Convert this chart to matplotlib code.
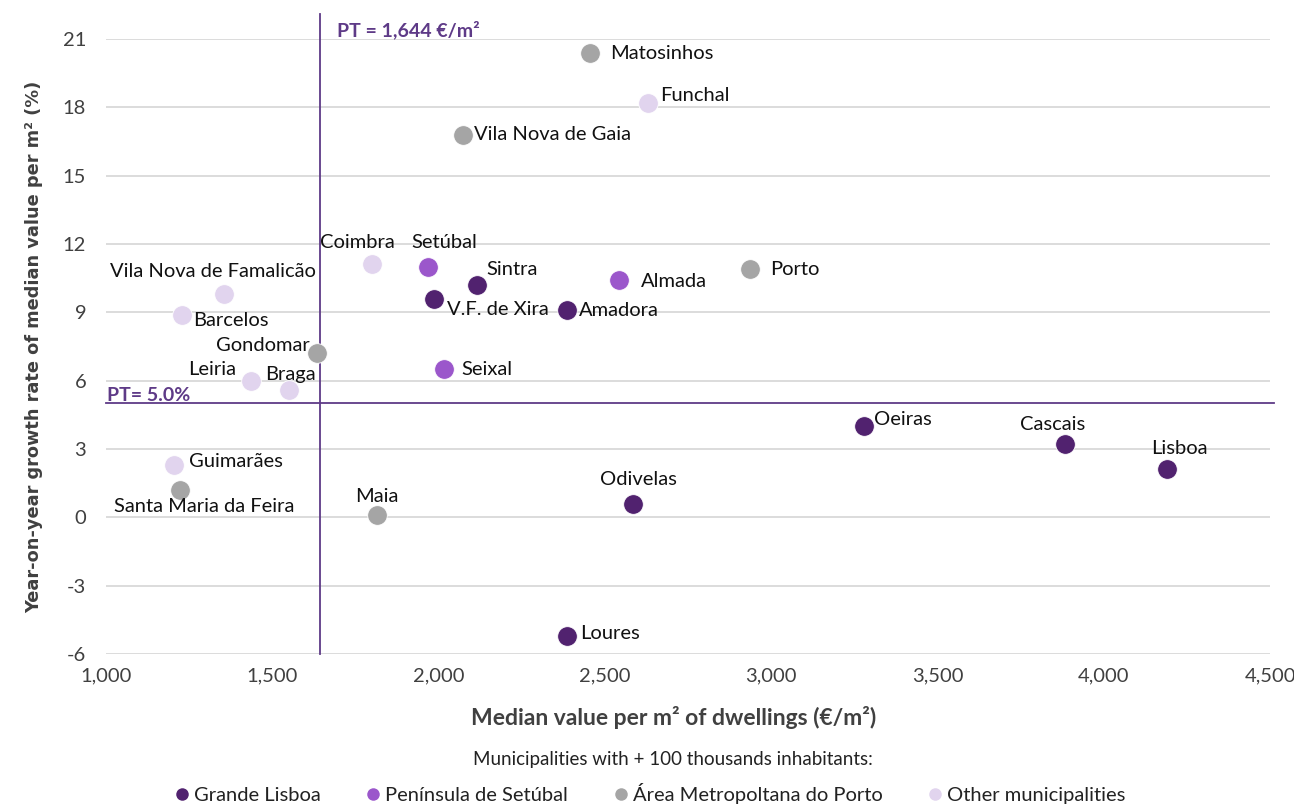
import matplotlib
matplotlib.use("Agg")
import matplotlib.pyplot as plt
from matplotlib.lines import Line2D
from matplotlib.ticker import FuncFormatter

# ---------------- data ----------------
names = ["Matosinhos", "Funchal", "Vila Nova de Gaia", "Porto", "Almada", "Setúbal",
         "Coimbra", "Sintra", "V.F. de Xira", "Amadora", "Seixal", "Gondomar",
         "Vila Nova de Famalicão", "Barcelos", "Leiria", "Braga", "Guimarães",
         "Santa Maria da Feira", "Maia", "Odivelas", "Oeiras", "Cascais", "Lisboa", "Loures"]
median_value = [2456, 2630, 2075, 2938, 2543, 1968,
                1800, 2116, 1988, 2388, 2017, 1636,
                1356, 1231, 1436, 1552, 1207,
                1225, 1816, 2586, 3279, 3882, 4190, 2388]
growth = [20.4, 18.2, 16.8, 10.9, 10.4, 11.0,
          11.1, 10.2, 9.6, 9.1, 6.5, 7.2,
          9.8, 8.9, 6.0, 5.6, 2.3,
          1.2, 0.1, 0.6, 4.0, 3.2, 2.1, -5.2]
group = ["AMP", "Other", "AMP", "AMP", "PS", "PS",
         "Other", "GL", "GL", "GL", "PS", "AMP",
         "Other", "Other", "Other", "Other", "Other",
         "AMP", "AMP", "GL", "GL", "GL", "GL", "GL"]
group_keys = ["GL", "PS", "AMP", "Other"]
group_labels = ["Grande Lisboa", "Península de Setúbal", "Área Metropoltana do Porto",
                "Other municipalities"]
pt_value = 1644
pt_growth = 5.0
x_ticks = [1000, 1500, 2000, 2500, 3000, 3500, 4000, 4500]
y_ticks = [-6, -3, 0, 3, 6, 9, 12, 15, 18, 21]

# ---------------- style ----------------
colors = {"GL": "#51226F", "PS": "#9B57CB", "AMP": "#A5A5A5", "Other": "#E1D4EE"}
pt_color = "#5E3A87"
# label offsets in pixels (dx, dy) and horizontal alignment
offsets = {
    "Matosinhos": (20, -1, "left"), "Funchal": (12, 7, "left"),
    "Vila Nova de Gaia": (11, 0, "left"), "Porto": (20, 0, "left"),
    "Almada": (22, -1, "left"), "Setúbal": (17, 24, "center"),
    "Coimbra": (-14, 22, "center"), "Sintra": (9, 15, "left"),
    "V.F. de Xira": (13, -11, "left"), "Amadora": (12, 0, "left"),
    "Seixal": (17, 0, "left"), "Gondomar": (-7, 8, "right"),
    "Vila Nova de Famalicão": (-11, 23, "center"), "Barcelos": (11, -6, "left"),
    "Leiria": (-15, 11, "right"), "Braga": (1, 15, "center"),
    "Guimarães": (15, 3, "left"), "Santa Maria da Feira": (24, -17, "center"),
    "Maia": (0, 19, "center"), "Odivelas": (5, 24, "center"),
    "Oeiras": (10, 7, "left"), "Cascais": (-12, 20, "center"),
    "Lisboa": (12, 21, "center"), "Loures": (13, 2, "left"),
}

plt.rcParams['font.family'] = ['Lato', 'DejaVu Sans']

fig = plt.figure(figsize=(12.94, 8.05), dpi=100)
ax = fig.add_axes([0.0816, 0.1876, 0.9000, 0.7640])

ax.set_xlim(1000, 4500)
ax.set_ylim(-6, 21)
ax.set_xticks(x_ticks)
ax.set_yticks(y_ticks)
ax.xaxis.set_major_formatter(FuncFormatter(lambda v, p: f"{int(v):,}"))
ax.yaxis.set_major_formatter(FuncFormatter(lambda v, p: f"{int(v)}"))
ax.grid(axis='y', color='#D9D9D9', linewidth=1.3)
ax.set_axisbelow(True)
for s in ax.spines.values():
    s.set_visible(False)
ax.tick_params(length=0, labelsize=14.5, colors='#404040', pad=10)
ax.tick_params(axis='y', pad=14)

# reference lines
ax.axhline(pt_growth, xmin=0, xmax=1.003, color=pt_color, linewidth=1.3, clip_on=False, zorder=2)
ax.plot([pt_value, pt_value], [-6, 22.1], color=pt_color, linewidth=1.3, clip_on=False, zorder=2)
ax.text(pt_value + 50, 21.4, "PT = 1,644 €/m²", color=pt_color, fontsize=14,
        fontweight='bold', va='center', ha='left')
ax.text(1005, 5.35, "PT= 5.0%", color=pt_color, fontsize=14, fontweight='bold',
        va='center', ha='left')

# points
for g in group_keys:
    xs = [x for x, gg in zip(median_value, group) if gg == g]
    ys = [y for y, gg in zip(growth, group) if gg == g]
    ax.scatter(xs, ys, s=200, color=colors[g], edgecolors='white', linewidths=0.6, zorder=3)

for n, x, y in zip(names, median_value, growth):
    dx, dy, ha = offsets[n]
    ax.annotate(n, (x, y), xytext=(dx, dy), textcoords='offset pixels',
                ha=ha, va='center', fontsize=14.5, color='#111111', zorder=4)

ax.set_xlabel("Median value per m² of dwellings (€/m²)", fontsize=16.5, fontweight='bold',
              color='#404040', labelpad=14)
ax.xaxis.set_label_coords(0.488, -0.085)
ax.set_ylabel("Year-on-year growth rate of median value per m² (%)", fontsize=12.8,
              fontweight='heavy', color='#404040', family='DejaVu Sans', labelpad=14)

fig.text(0.52, 0.057, "Municipalities with + 100 thousands inhabitants:", ha='center',
         va='center', fontsize=13.5, color='#222222')

handles = [Line2D([0], [0], marker='o', linestyle='', markersize=9,
                  markerfacecolor=colors[g], markeredgecolor='none') for g in group_keys]
fig.legend(handles, group_labels, loc='center', bbox_to_anchor=(0.502, 0.014), ncol=4,
           frameon=False, fontsize=14.5, handlelength=0.8, handletextpad=0.2,
           columnspacing=2.2, labelcolor='#222222')

fig.savefig("out.png", dpi=100)
